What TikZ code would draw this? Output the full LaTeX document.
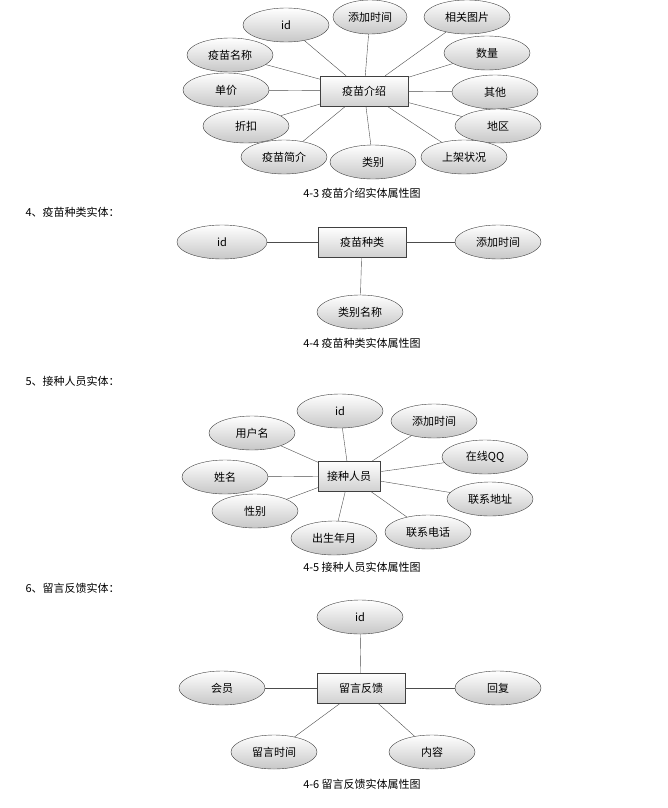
\documentclass[tikz,border=0pt]{standalone}
\usepackage{fontspec}
\setmainfont{Noto Sans CJK SC}
\usetikzlibrary{shapes.geometric}
\begin{document}
\begin{tikzpicture}[x=1pt,y=-1pt,font=\fontsize{11}{13}\selectfont,
 attr/.style={ellipse,draw=black!75,top color=white,bottom color=black!22,minimum width=86pt,minimum height=34pt,inner sep=0pt},
 ent/.style={rectangle,draw=black!75,top color=white,bottom color=black!18,minimum width=88pt,minimum height=30pt,inner sep=0pt},
 ln/.style={draw=black!70}]
\useasboundingbox (0,0) rectangle (668,808);
% section 1
\node[ent] (e1) at (364,91) {疫苗介绍};
\node[attr] (a1) at (286,25) {id};
\node[attr,minimum width=74pt] (a2) at (370,17) {添加时间};
\node[attr] (a3) at (467,17) {相关图片};
\node[attr] (a4) at (230,55) {疫苗名称};
\node[attr] (a5) at (487,53) {数量};
\node[attr] (a6) at (226,90) {单价};
\node[attr] (a7) at (495,92) {其他};
\node[attr] (a8) at (246,126) {折扣};
\node[attr] (a9) at (498,126) {地区};
\node[attr] (a10) at (284,157) {疫苗简介};
\node[attr] (a11) at (373,162) {类别};
\node[attr] (a12) at (464,157) {上架状况};
\foreach \i in {1,...,12} \draw[ln] (e1) -- (a\i);
\node (c1) at (362,193) {4-3 疫苗介绍实体属性图};
\node[anchor=west] (t4) at (22,212) {4、疫苗种类实体：};
% section 2
\node[ent] (e2) at (362,242) {疫苗种类};
\node[attr,minimum width=90pt] (b1) at (222,242) {id};
\node[attr] (b2) at (498,242) {添加时间};
\node[attr] (b3) at (360,312) {类别名称};
\foreach \i in {1,2,3} \draw[ln] (e2) -- (b\i);
\node (c2) at (362,343) {4-4 疫苗种类实体属性图};
\node[anchor=west] (t5) at (22,381) {5、接种人员实体：};
% section 3
\node[ent,minimum width=62pt] (e3) at (349,476) {接种人员};
\node[attr] (d1) at (340,411) {id};
\node[attr] (d2) at (252,433) {用户名};
\node[attr] (d3) at (434,421) {添加时间};
\node[attr] (d4) at (485,457) {在线QQ};
\node[attr] (d5) at (225,477) {姓名};
\node[attr] (d6) at (490,499) {联系地址};
\node[attr] (d7) at (255,511) {性别};
\node[attr] (d8) at (428,532) {联系电话};
\node[attr] (d9) at (334,538) {出生年月};
\foreach \i in {1,...,9} \draw[ln] (e3) -- (d\i);
\node (c3) at (362,567) {4-5 接种人员实体属性图};
\node[anchor=west] (t6) at (22,588) {6、留言反馈实体：};
% section 4
\node[ent] (e4) at (361,688) {留言反馈};
\node[attr] (f1) at (360,617) {id};
\node[attr] (f2) at (222,688) {会员};
\node[attr] (f3) at (498,688) {回复};
\node[attr] (f4) at (274,752) {留言时间};
\node[attr] (f5) at (432,752) {内容};
\foreach \i in {1,...,5} \draw[ln] (e4) -- (f\i);
\node (c4) at (362,784) {4-6 留言反馈实体属性图};
\end{tikzpicture}
\end{document}
